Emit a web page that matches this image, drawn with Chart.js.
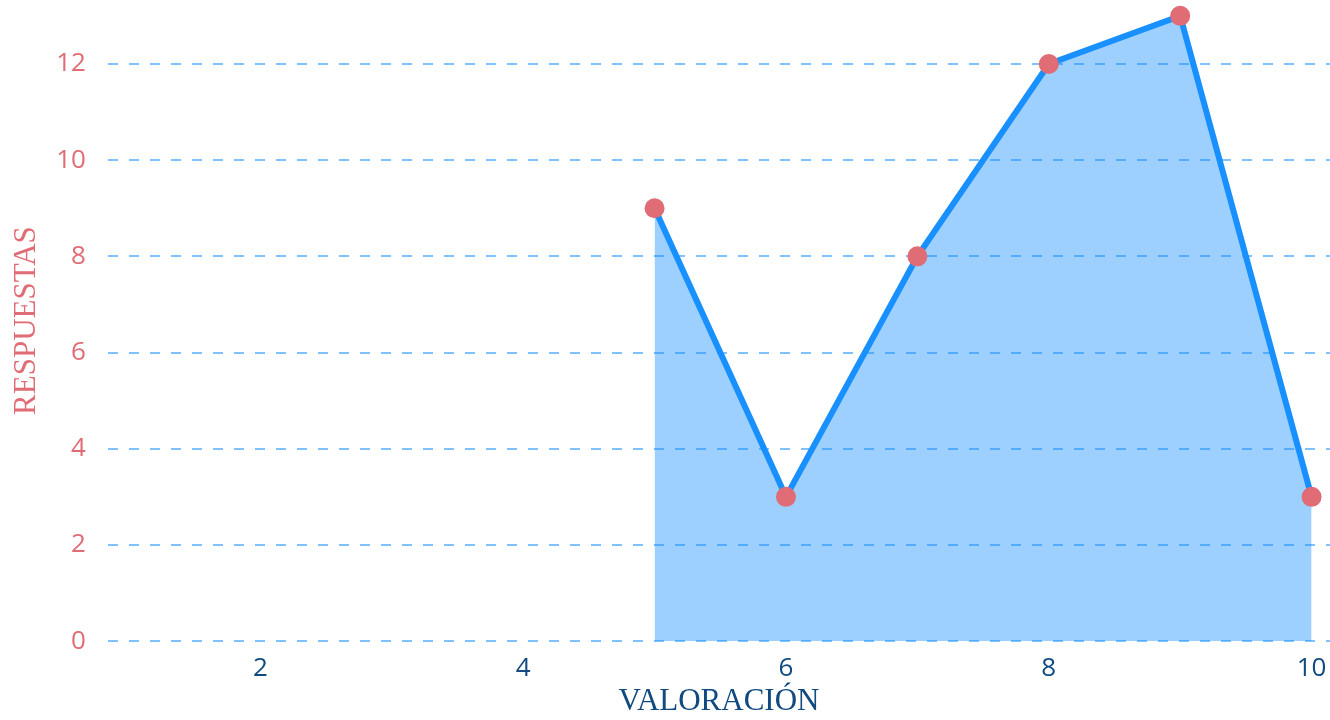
<!DOCTYPE html>
<html lang="es">
  <head>
    <meta charset="UTF-8" />
    <title>Valoración</title>
    <script src="https://cdn.jsdelivr.net/npm/chart.js@4/dist/chart.umd.min.js"></script>
    <style>
      body { margin: 0; background: #fff; }
      #wrap { width: 1330px; height: 720px; }
    </style>
  </head>
  <body>
    <div id="wrap"><canvas id="chart"></canvas></div>
    <script>
      // puntuaciones recibidas y número de respuestas
      const valoraciones = [5, 6, 7, 8, 9, 10];
      const respuestas = [9, 3, 8, 12, 13, 3];
      const xTicks = [2, 4, 6, 8, 10];
      const yTicks = [0, 2, 4, 6, 8, 10, 12];

      const red = 'rgb(224, 108, 117)';
      const blue = 'rgb(24, 144, 255)';
      const navy = 'rgb(16, 74, 128)';

      const ctx = document.getElementById('chart').getContext('2d');
      const chart = new Chart(ctx, {
        type: 'line',
        data: {
          datasets: [
            {
              data: valoraciones.map((v, i) => ({ x: v, y: respuestas[i] })),
              borderColor: blue,
              borderWidth: 6,
              backgroundColor: 'rgba(24, 144, 255, 0.42)',
              fill: 'origin',
              pointRadius: 10,
              pointHoverRadius: 10,
              pointBackgroundColor: red,
              pointBorderWidth: 0,
              tension: 0,
              clip: false,
            },
          ],
        },
        options: {
          responsive: true,
          maintainAspectRatio: false,
          animation: false,
          layout: { padding: 0, autoPadding: false },
          plugins: { legend: { display: false }, tooltip: { enabled: false } },
          scales: {
            x: {
              type: 'linear',
              min: 0.84,
              max: 10.14,
              afterBuildTicks: s => { s.ticks = xTicks.map(v => ({ value: v })); },
              afterFit: s => { s.paddingLeft = 0; s.paddingRight = 0; },
              grid: { display: false, drawTicks: true, tickLength: 12 },
              border: { display: false },
              ticks: { color: navy, font: { family: 'Open Sans', size: 26 }, padding: 0 },
              title: {
                display: true,
                text: 'VALORACIÓN',
                color: navy,
                font: { family: 'Liberation Serif', size: 31, lineHeight: 1.15 },
                padding: { top: 0, bottom: 0 },
              },
            },
            y: {
              min: 0,
              max: 13.33,
              afterBuildTicks: s => { s.ticks = yTicks.map(v => ({ value: v })); },
              afterFit: s => { s.paddingTop = 0; },
              grid: {
                color: 'rgba(24, 144, 255, 0.55)',
                lineWidth: 2,
                drawTicks: true,
                tickLength: 22,
                tickColor: 'rgba(0, 0, 0, 0)',
              },
              border: { display: false, dash: [10, 11] },
              ticks: { color: red, font: { family: 'Open Sans', size: 26 }, padding: 0 },
              title: {
                display: true,
                text: 'RESPUESTAS',
                color: red,
                font: { family: 'Liberation Serif', size: 31 },
                padding: { top: 8, bottom: 11 },
              },
            },
          },
        },
      });
    </script>
  </body>
</html>
